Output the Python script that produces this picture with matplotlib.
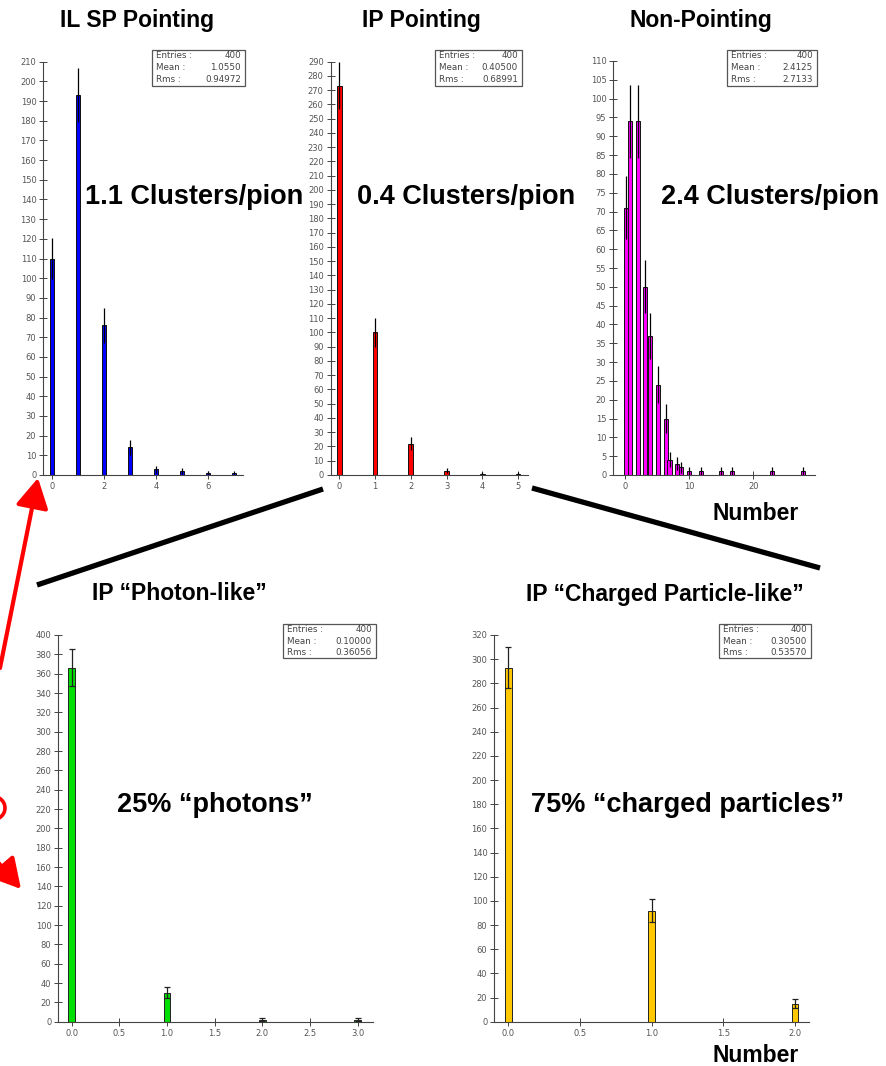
import numpy as np
import matplotlib
matplotlib.use("Agg")
import matplotlib.pyplot as plt
from matplotlib.patches import Rectangle, FancyArrowPatch, Arc
from matplotlib.lines import Line2D

plt.rcParams['font.family'] = ['Liberation Sans', 'DejaVu Sans']

W, H = 887, 1066

# ---------------- data ----------------
il_x = [0, 1, 2, 3, 4, 5, 6, 7]
il_counts = [110, 193, 76, 14, 3, 2, 1, 1]
il_stats = ["400", "1.0550", "0.94972"]

ip_x = [0, 1, 2, 3, 4, 5]
ip_counts = [273, 100, 22, 3, 1, 1]
ip_stats = ["400", "0.40500", "0.68991"]

np_x = [0.15, 0.8, 2.0, 3.2, 3.85, 5.1, 6.35, 6.95, 8.15, 8.8, 9.95, 11.9, 14.9, 16.75, 22.95, 27.8]
np_counts = [71, 94, 94, 50, 37, 24, 15, 4, 3, 2, 1, 1, 1, 1, 1, 1]
np_stats = ["400", "2.4125", "2.7133"]

ph_x = [0, 1, 2, 3]
ph_counts = [366, 30, 2, 2]
ph_stats = ["400", "0.10000", "0.36056"]

ch_x = [0, 1, 2]
ch_counts = [293, 92, 15]
ch_stats = ["400", "0.30500", "0.53570"]

stat_labels = ["Entries :", "Mean :", "Rms :"]

fig = plt.figure(figsize=(W / 100, H / 100), dpi=100)


def fx(x):
    return x / W


def fy(y):
    return 1 - y / H


def make_axes(left, right, y0, ytop):
    return fig.add_axes([fx(left), fy(y0), (right - left) / W, (y0 - ytop) / H])


def style_axes(ax, xlim, ylim, xticks, yticks, xfmt=None):
    ax.set_xlim(*xlim)
    ax.set_ylim(*ylim)
    for s in ['top', 'right']:
        ax.spines[s].set_visible(False)
    for s in ['left', 'bottom']:
        ax.spines[s].set_color('#444444')
        ax.spines[s].set_linewidth(0.8)
    ax.set_xticks(xticks)
    ax.set_yticks(yticks)
    if xfmt:
        ax.set_xticklabels([xfmt.format(t) for t in xticks])
    ax.tick_params(direction='inout', length=6, width=0.7, color='#444444',
                   labelsize=6, labelcolor='#555555', pad=2)
    for lab in ax.get_xticklabels() + ax.get_yticklabels():
        lab.set_family('DejaVu Sans')
    ax.patch.set_alpha(0)


def stats_box(left, top, right, bottom, vals):
    fig.patches.append(Rectangle((fx(left), fy(bottom)), (right - left) / W, (bottom - top) / H,
                                 transform=fig.transFigure, fill=False, edgecolor='#555555', lw=0.9))
    lh = (bottom - top) / 3
    for i, (lab, v) in enumerate(zip(stat_labels, vals)):
        yy = top + lh * (i + 0.5)
        fig.text(fx(left + 4), fy(yy), lab, ha='left', va='center', fontsize=6.3,
                 color='#444444', family='DejaVu Sans')
        fig.text(fx(right - 4), fy(yy), v, ha='right', va='center', fontsize=6.3,
                 color='#444444', family='DejaVu Sans')


def upper_hist(ax, x, counts, width, color):
    c = np.array(counts, float)
    ax.bar(x, c, width=width, color=color, edgecolor='#111111', linewidth=0.7, zorder=2)
    e = np.sqrt(c)
    ax.vlines(x, c - e, c + e, color='black', linewidth=0.9, zorder=3)


def lower_hist(ax, x, counts, width, color, capsize):
    c = np.array(counts, float)
    ax.bar(x, c, width=width, color=color, edgecolor='#222222', linewidth=0.7, zorder=2)
    e = np.sqrt(c)
    ax.errorbar(x, c, yerr=e, fmt='none', ecolor='#222222', elinewidth=0.9,
                capsize=capsize, capthick=0.9, zorder=3)


# Panel 1: IL SP Pointing
ax1 = make_axes(43.3, 243, 475, 61.7)
upper_hist(ax1, il_x, il_counts, 0.16, '#0000ff')
style_axes(ax1, (-0.35, 7.36), (0, 210), [0, 2, 4, 6], np.arange(0, 211, 10))

# Panel 2: IP Pointing
ax2 = make_axes(330.7, 528, 475, 61.7)
upper_hist(ax2, ip_x, ip_counts, 0.13, '#ff0000')
style_axes(ax2, (-0.24, 5.28), (0, 290), [0, 1, 2, 3, 4, 5], np.arange(0, 291, 10))

# Panel 3: Non-Pointing
ax3 = make_axes(613.3, 815, 475, 61.0)
upper_hist(ax3, np_x, np_counts, 0.63, '#ff00ff')
style_axes(ax3, (-1.8, 29.6), (0, 110), [0, 10, 20], np.arange(0, 111, 5))

# Panel 4: IP Photon-like
ax4 = make_axes(58.3, 373.3, 1021.7, 635)
lower_hist(ax4, ph_x, ph_counts, 0.07, '#00e000', 2.4)
style_axes(ax4, (-0.14, 3.165), (0, 400), [0, 0.5, 1, 1.5, 2, 2.5, 3], np.arange(0, 401, 20), '{:.1f}')

# Panel 5: IP Charged Particle-like
ax5 = make_axes(494.3, 809.3, 1021.7, 635)
lower_hist(ax5, ch_x, ch_counts, 0.047, '#ffc800', 2.4)
style_axes(ax5, (-0.098, 2.1), (0, 320), [0, 0.5, 1, 1.5, 2], np.arange(0, 321, 20), '{:.1f}')

# stats boxes
stats_box(152, 50, 245, 86, il_stats)
stats_box(435, 50, 522, 86, ip_stats)
stats_box(727, 50, 817, 86, np_stats)
stats_box(283, 624, 376, 658, ph_stats)
stats_box(719, 624, 811, 658, ch_stats)

# titles
tkw = dict(ha='center', va='center', fontsize=16.5, fontweight='bold', color='black')
fig.text(fx(137), fy(20), "IL SP Pointing", **tkw)
fig.text(fx(421), fy(20), "IP Pointing", **tkw)
fig.text(fx(701), fy(20), "Non-Pointing", **tkw)
fig.text(fx(179), fy(594), "IP \u201cPhoton-like\u201d", **tkw)
fig.text(fx(665), fy(594), "IP \u201cCharged Particle-like\u201d", **tkw)
fig.text(fx(756), fy(514), "Number", **tkw)
fig.text(fx(756), fy(1056), "Number", **tkw)

# big annotations
bkw = dict(ha='center', va='center', fontsize=19.5, fontweight='bold', color='black')
fig.text(fx(194), fy(197), "1.1 Clusters/pion", **bkw)
fig.text(fx(466), fy(197), "0.4 Clusters/pion", **bkw)
fig.text(fx(770), fy(197), "2.4 Clusters/pion", **bkw)
fig.text(fx(215), fy(805), "25% \u201cphotons\u201d", **bkw)
fig.text(fx(688), fy(805), "75% \u201ccharged particles\u201d", **bkw)

# black connector lines
for (x0, y0, x1, y1) in [(37, 585, 323, 489), (532, 488, 820, 568)]:
    fig.add_artist(Line2D([fx(x0), fx(x1)], [fy(y0), fy(y1)], transform=fig.transFigure,
                          color='black', lw=3.8, solid_capstyle='butt'))

# red arrows and circle
for (x0, y0, x1, y1) in [(0, 668, 38, 478), (-4, 860, 21, 889)]:
    fig.add_artist(FancyArrowPatch((fx(x0), fy(y0)), (fx(x1), fy(y1)), transform=fig.transFigure,
                                   arrowstyle='-|>,head_length=9,head_width=5', color='#ff0000',
                                   lw=3.0, mutation_scale=2.0, shrinkA=0, shrinkB=0))
fig.add_artist(Arc((fx(-8), fy(808)), 2 * 13 / W, 2 * 12 / H, transform=fig.transFigure,
                   color='#ff0000', lw=2.6))

fig.savefig("out.png", dpi=100)
